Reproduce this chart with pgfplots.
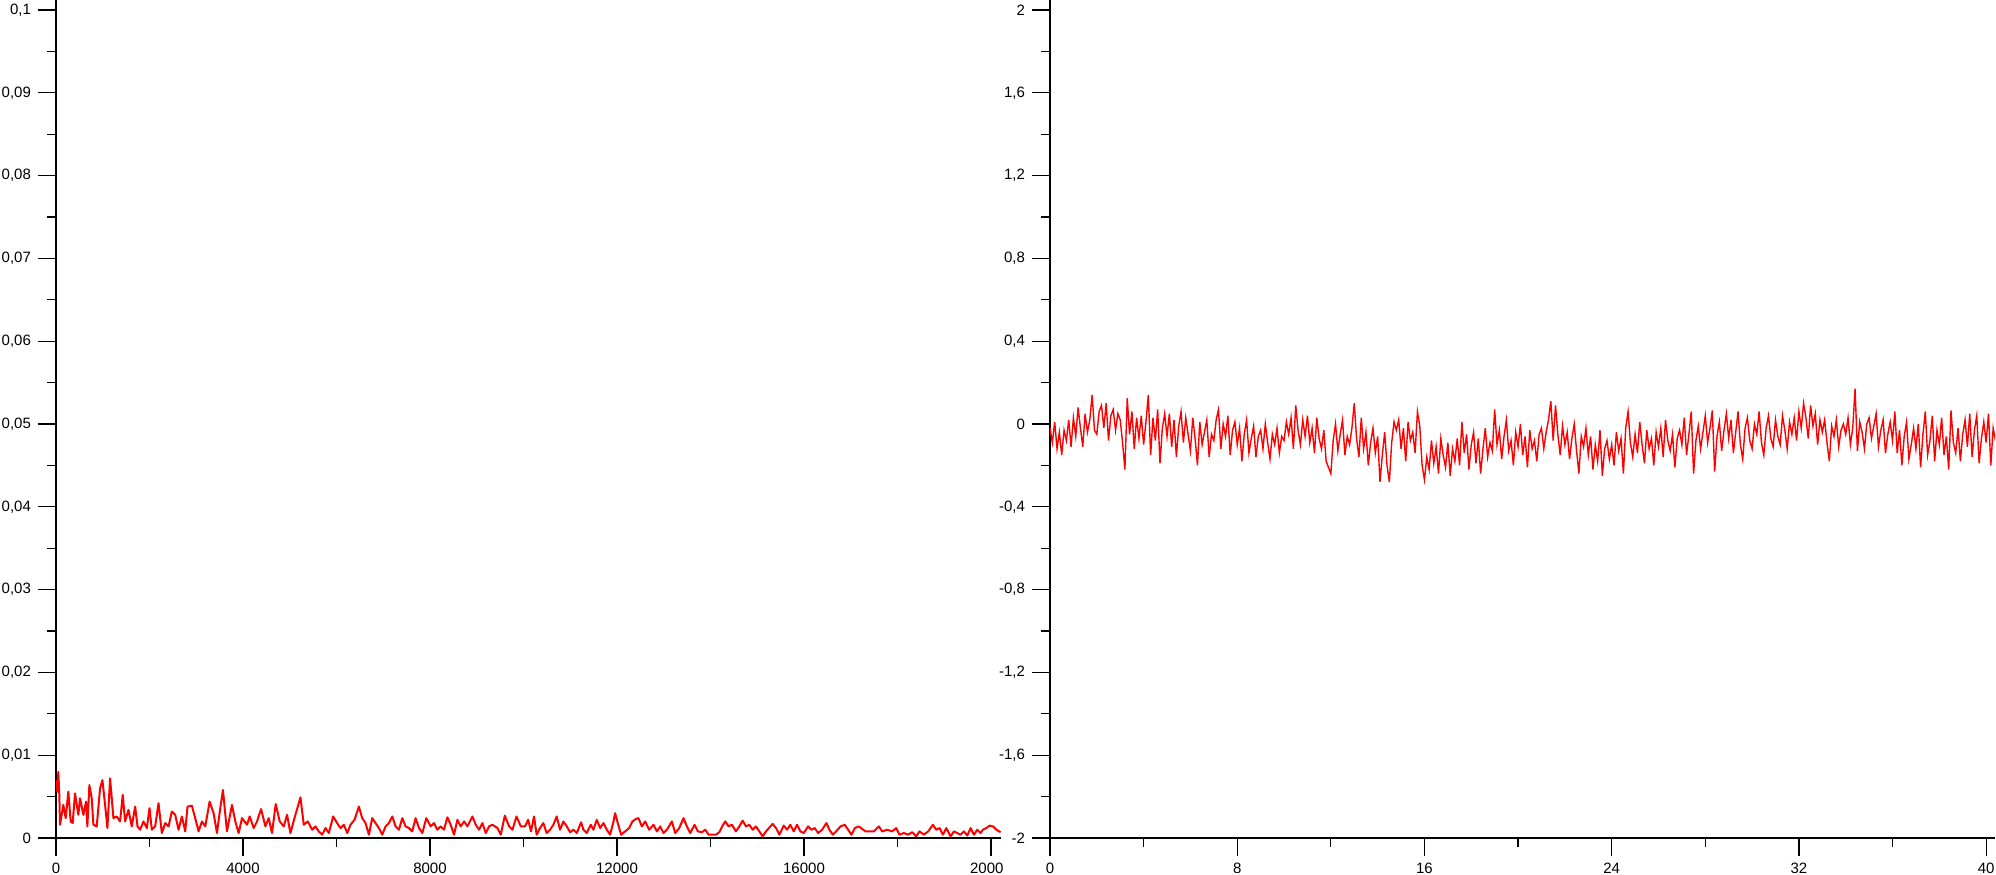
\documentclass[border=0pt]{standalone}
\usepackage{fontspec}
\setmainfont{Liberation Sans}
\usepackage{pgfplots}
\pgfplotsset{compat=1.18}

\pgfplotsset{panel/.style={
    scale only axis,
    width=472.5pt, height=419pt,
    anchor=south west,
    axis x line=bottom, axis y line=left,
    axis line style={-, line width=0.6pt, black},
    tick align=outside,
    major tick length=9pt, minor tick length=4.5pt,
    tick style={black, line width=0.6pt},
    minor tick num=1,
    scaled ticks=false,
    tick label style={font=\fontsize{7.5}{8.5}\selectfont, text=black},
    /pgf/number format/assume math mode=true,
    /pgf/number format/use comma,
    /pgf/number format/1000 sep={},
    yticklabel style={/pgf/number format/fixed, /pgf/number format/precision=2},
}}

\begin{document}
\begin{tikzpicture}
\useasboundingbox (-28pt,-18pt) rectangle (970pt,419pt);

% left panel: clipped at its right edge like the original window
\begin{scope}
\clip (-28pt,-18pt) rectangle (473.5pt,419pt);
\begin{axis}[panel, at={(0pt,0pt)},
    xmin=0, xmax=20214, ymin=0, ymax=0.10121,
    xtick={0,4000,8000,12000,16000,20000},
    ytick={0,0.01,0.02,0.03,0.04,0.05,0.06,0.07,0.08,0.09,0.1}]
\addplot[red, line width=1pt, line join=round] coordinates {
(0,0.0070) (29,0.0056) (50,0.0080) (71,0.0052) (86,0.0016) (157,0.0040) (207,0.0024)
(264,0.0056) (314,0.0020) (357,0.0018) (407,0.0054) (478,0.0028) (514,0.0048)
(586,0.0028) (643,0.0044) (671,0.0014) (714,0.0064) (764,0.0048) (800,0.0016)
(871,0.0014) (943,0.0060) (993,0.0070) (1050,0.0040) (1100,0.0012) (1157,0.0072)
(1228,0.0024) (1300,0.0026) (1371,0.0020) (1428,0.0052) (1478,0.0020) (1550,0.0034)
(1621,0.0014) (1693,0.0038) (1743,0.0014) (1800,0.0010) (1871,0.0020) (1943,0.0012)
(2000,0.0036) (2050,0.0010) (2121,0.0014) (2193,0.0042) (2264,0.0006) (2336,0.0018)
(2407,0.0014) (2478,0.0032) (2550,0.0028) (2621,0.0010) (2693,0.0026) (2764,0.0008)
(2814,0.0038) (2907,0.0039) (2978,0.0024) (3050,0.0008) (3121,0.0020) (3193,0.0014)
(3286,0.0044) (3371,0.0030) (3443,0.0006) (3514,0.0036) (3571,0.0058) (3657,0.0008)
(3764,0.0040) (3836,0.0020) (3907,0.0006) (3979,0.0024) (4086,0.0016) (4143,0.0026)
(4229,0.0012) (4300,0.0020) (4386,0.0035) (4479,0.0014) (4550,0.0024) (4621,0.0006)
(4700,0.0041) (4786,0.0020) (4871,0.0014) (4943,0.0028) (5014,0.0006) (5121,0.0028)
(5229,0.0049) (5300,0.0016) (5386,0.0020) (5479,0.0010) (5550,0.0014) (5621,0.0008)
(5693,0.0004) (5764,0.0012) (5836,0.0006) (5929,0.0026) (6014,0.0018) (6086,0.0012)
(6157,0.0016) (6229,0.0006) (6300,0.0016) (6386,0.0022) (6479,0.0038) (6550,0.0024)
(6621,0.0018) (6693,0.0004) (6764,0.0024) (6836,0.0018) (6907,0.0012) (6979,0.0004)
(7050,0.0014) (7121,0.0018) (7193,0.0026) (7264,0.0014) (7336,0.0010) (7407,0.0024)
(7479,0.0014) (7550,0.0012) (7621,0.0008) (7693,0.0024) (7764,0.0012) (7836,0.0006)
(7921,0.0024) (8014,0.0014) (8086,0.0018) (8157,0.0010) (8229,0.0014) (8300,0.0010)
(8371,0.0025) (8443,0.0016) (8514,0.0004) (8586,0.0022) (8657,0.0014) (8729,0.0020)
(8800,0.0014) (8907,0.0026) (8979,0.0016) (9050,0.0010) (9121,0.0018) (9193,0.0006)
(9264,0.0014) (9336,0.0016) (9443,0.0012) (9514,0.0004) (9600,0.0027) (9693,0.0014)
(9764,0.0010) (9850,0.0026) (9943,0.0014)
(10032,0.0014) (10100,0.0022) (10160,0.0008) (10225,0.0026) (10282,0.0004) (10353,0.0012)
(10425,0.0018) (10496,0.0006) (10568,0.0010) (10639,0.0016) (10710,0.0026) (10782,0.0010)
(10853,0.0020) (10925,0.0014) (10996,0.0007) (11067,0.0010) (11139,0.0006) (11232,0.0019)
(11282,0.0010) (11353,0.0006) (11439,0.0016) (11496,0.0010) (11567,0.0022) (11639,0.0012)
(11710,0.0018) (11782,0.0010) (11853,0.0004) (11925,0.0020) (11960,0.0030) (12017,0.0018)
(12088,0.0004) (12174,0.0008) (12260,0.0012) (12331,0.0020) (12403,0.0023) (12460,0.0024)
(12531,0.0014) (12603,0.0020) (12688,0.0010) (12781,0.0016) (12853,0.0008) (12924,0.0014)
(12995,0.0006) (13067,0.0010) (13174,0.0020) (13245,0.0006) (13331,0.0012) (13424,0.0024)
(13495,0.0014) (13567,0.0006) (13659,0.0016) (13731,0.0008) (13816,0.0007) (13888,0.0010)
(13959,0.0004) (14030,0.0004) (14116,0.0004) (14188,0.0007) (14259,0.0015) (14316,0.0020)
(14388,0.0014) (14459,0.0016) (14544,0.0008) (14616,0.0014) (14687,0.0021) (14759,0.0014)
(14830,0.0016) (14901,0.0010) (14973,0.0014) (15044,0.0008) (15116,0.0002) (15188,0.0008)
(15280,0.0014) (15330,0.0017) (15402,0.0012) (15473,0.0004) (15566,0.0015) (15637,0.0010)
(15708,0.0016) (15780,0.0008) (15851,0.0016) (15923,0.0008) (15994,0.0006) (16087,0.0014)
(16158,0.0010) (16230,0.0012) (16301,0.0006) (16387,0.0010) (16480,0.0018) (16544,0.0010)
(16615,0.0004) (16687,0.0008) (16780,0.0014) (16872,0.0016) (16944,0.0010) (17015,0.0004)
(17087,0.0012) (17172,0.0014) (17244,0.0011) (17315,0.0008) (17386,0.0008) (17493,0.0008)
(17601,0.0014) (17672,0.0008) (17780,0.0010) (17886,0.0008) (17972,0.0012) (18043,0.0004)
(18136,0.0006) (18229,0.0004) (18314,0.0007) (18400,0.0002) (18471,0.0008) (18564,0.0004)
(18657,0.0008) (18757,0.0016) (18828,0.0010) (18900,0.0012) (18971,0.0004) (19043,0.0012)
(19135,0.0002) (19207,0.0008) (19278,0.0006) (19350,0.0004) (19421,0.0008) (19493,0.0003)
(19564,0.0012) (19635,0.0004) (19707,0.0010) (19778,0.0006) (19828,0.0010) (19900,0.0012)
(19971,0.0015) (20043,0.0014) (20114,0.0010) (20207,0.0007)
};
\end{axis}
\end{scope}

% right panel
\begin{axis}[panel, at={(497pt,0pt)},
    xmin=0, xmax=40.38, ymin=-2, ymax=2.048,
    xtick={0,8,16,24,32,40},
    ytick={-2,-1.6,-1.2,-0.8,-0.4,0,0.4,0.8,1.2,1.6,2}]
\addplot[red, line width=0.7pt] table[header=false, row sep=\\, x expr=\coordindex*0.1, y index=0] {
-0.02\\ -0.09\\ 0.01\\ -0.12\\ -0.04\\ -0.15\\ -0.03\\ -0.08\\ 0.02\\ -0.11\\
0.03\\ -0.06\\ 0.08\\ -0.02\\ -0.11\\ 0.05\\ -0.04\\ 0.02\\ 0.14\\ -0.03\\
-0.05\\ 0.06\\ 0.09\\ -0.02\\ 0.1\\ -0.08\\ 0.04\\ 0.07\\ -0.03\\ 0.05\\
0.02\\ -0.09\\ -0.22\\ 0.125\\ -0.05\\ 0.06\\ -0.12\\ 0.03\\ -0.07\\ 0.04\\
-0.1\\ 0.01\\ 0.14\\ -0.15\\ 0.03\\ -0.08\\ 0.07\\ -0.19\\ -0.02\\ 0.05\\
-0.06\\ 0.05\\ -0.11\\ 0.02\\ -0.16\\ -0.01\\ 0.06\\ -0.09\\ 0.03\\ -0.05\\
-0.13\\ 0.03\\ -0.07\\ -0.2\\ 0.01\\ -0.1\\ -0.04\\ 0.02\\ -0.16\\ -0.05\\
-0.08\\ 0.02\\ 0.07\\ -0.12\\ 0.0\\ -0.06\\ 0.04\\ -0.15\\ -0.03\\ 0.01\\
-0.1\\ -0.02\\ -0.18\\ -0.05\\ 0.02\\ -0.14\\ -0.07\\ -0.01\\ -0.16\\ -0.06\\
-0.03\\ -0.12\\ 0.0\\ -0.09\\ -0.17\\ -0.05\\ -0.1\\ -0.02\\ -0.14\\ -0.06\\
-0.08\\ 0.01\\ -0.05\\ 0.03\\ -0.12\\ 0.09\\ -0.03\\ -0.1\\ 0.02\\ -0.06\\
0.04\\ -0.09\\ -0.02\\ -0.14\\ 0.03\\ -0.07\\ -0.12\\ -0.03\\ -0.18\\ -0.21\\
-0.24\\ -0.08\\ 0.0\\ -0.13\\ -0.05\\ 0.02\\ -0.15\\ -0.06\\ -0.1\\ -0.02\\
0.1\\ -0.07\\ -0.16\\ 0.03\\ -0.12\\ -0.04\\ -0.2\\ -0.09\\ -0.02\\ -0.14\\
-0.06\\ -0.28\\ -0.15\\ -0.04\\ -0.2\\ -0.28\\ -0.09\\ 0.01\\ -0.03\\ 0.02\\
-0.12\\ -0.02\\ -0.18\\ 0.01\\ -0.08\\ -0.04\\ -0.14\\ 0.06\\ -0.01\\ -0.2\\
-0.27\\ -0.16\\ -0.22\\ -0.08\\ -0.19\\ -0.11\\ -0.24\\ -0.07\\ -0.15\\ -0.21\\
-0.09\\ -0.25\\ -0.12\\ -0.18\\ -0.07\\ -0.2\\ 0.01\\ -0.14\\ -0.05\\ -0.22\\
-0.1\\ -0.04\\ -0.19\\ -0.07\\ -0.24\\ -0.12\\ -0.02\\ -0.16\\ -0.09\\ -0.13\\
0.07\\ -0.1\\ -0.03\\ -0.17\\ -0.06\\ 0.02\\ -0.13\\ -0.08\\ -0.2\\ -0.04\\
-0.11\\ 0.0\\ -0.15\\ -0.06\\ -0.21\\ -0.03\\ -0.12\\ -0.08\\ -0.18\\ -0.05\\
-0.02\\ -0.12\\ -0.04\\ 0.02\\ 0.11\\ -0.08\\ 0.09\\ -0.05\\ -0.15\\ -0.01\\
-0.1\\ -0.04\\ -0.17\\ -0.07\\ 0.0\\ -0.13\\ -0.24\\ -0.06\\ -0.11\\ -0.02\\
-0.15\\ -0.06\\ -0.22\\ -0.1\\ -0.18\\ -0.03\\ -0.25\\ -0.12\\ -0.08\\ -0.17\\
-0.1\\ -0.2\\ -0.04\\ -0.13\\ -0.07\\ -0.24\\ -0.02\\ 0.06\\ -0.09\\ -0.16\\
-0.05\\ -0.14\\ 0.01\\ -0.1\\ -0.19\\ -0.03\\ -0.12\\ -0.07\\ -0.2\\ -0.04\\
-0.11\\ -0.02\\ -0.16\\ 0.02\\ -0.08\\ -0.13\\ -0.05\\ -0.21\\ -0.07\\ -0.03\\
-0.1\\ 0.03\\ -0.15\\ -0.05\\ 0.06\\ -0.24\\ -0.08\\ -0.01\\ -0.12\\ -0.04\\
0.04\\ -0.09\\ -0.02\\ 0.065\\ -0.23\\ -0.06\\ 0.01\\ -0.13\\ -0.03\\ 0.05\\
-0.07\\ 0.02\\ -0.14\\ -0.04\\ 0.06\\ -0.1\\ -0.17\\ -0.02\\ 0.03\\ -0.08\\
-0.12\\ 0.0\\ -0.05\\ 0.06\\ -0.09\\ -0.15\\ -0.02\\ 0.04\\ -0.07\\ -0.11\\
0.02\\ -0.06\\ -0.1\\ 0.04\\ -0.03\\ -0.12\\ 0.01\\ -0.05\\ 0.03\\ -0.08\\
0.06\\ -0.02\\ 0.1\\ 0.03\\ -0.07\\ 0.09\\ -0.01\\ 0.05\\ -0.1\\ 0.02\\
-0.04\\ 0.02\\ -0.09\\ -0.18\\ -0.01\\ -0.06\\ 0.02\\ -0.11\\ -0.03\\ 0.0\\
-0.05\\ 0.03\\ -0.1\\ -0.02\\ 0.17\\ -0.13\\ 0.01\\ -0.04\\ -0.12\\ 0.0\\
0.03\\ -0.07\\ -0.01\\ 0.05\\ -0.11\\ -0.03\\ 0.02\\ -0.14\\ -0.05\\ 0.01\\
-0.08\\ 0.06\\ -0.14\\ -0.03\\ -0.2\\ -0.06\\ 0.01\\ -0.17\\ -0.1\\ -0.02\\
-0.12\\ 0.0\\ -0.21\\ -0.05\\ 0.06\\ -0.15\\ -0.08\\ 0.04\\ -0.18\\ -0.03\\
-0.1\\ 0.03\\ -0.15\\ -0.06\\ -0.22\\ 0.065\\ -0.09\\ -0.14\\ -0.02\\ -0.18\\
-0.05\\ 0.02\\ -0.11\\ 0.05\\ -0.16\\ -0.03\\ 0.04\\ -0.19\\ -0.07\\ 0.01\\
-0.09\\ 0.05\\ -0.2\\ -0.02\\ -0.08\\
};
\end{axis}
\end{tikzpicture}
\end{document}
